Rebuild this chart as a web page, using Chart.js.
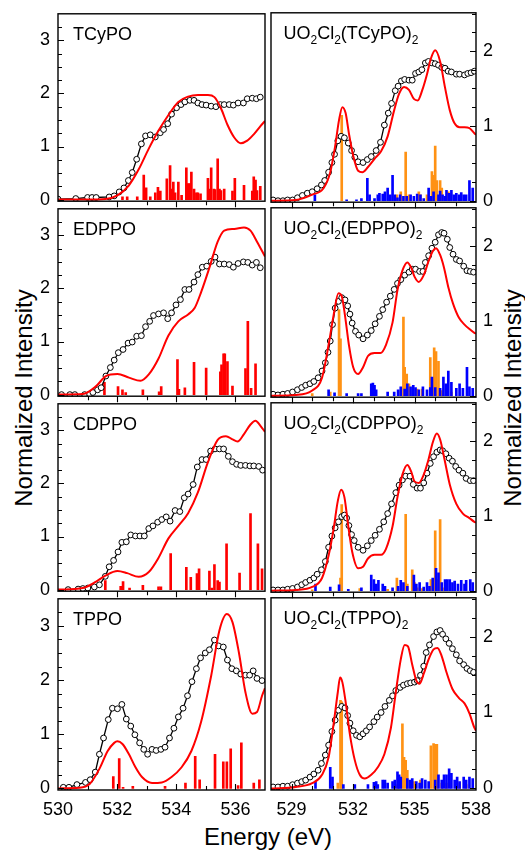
<!DOCTYPE html>
<html><head><meta charset="utf-8">
<script src="https://cdn.jsdelivr.net/npm/chart.js@4.4.1/dist/chart.umd.min.js"></script>
<style>
html,body{margin:0;padding:0;background:#fff;}
#wrap{position:relative;width:525px;height:850px;overflow:hidden;font-family:"Liberation Sans",Arial,sans-serif;color:#000;}
#wrap canvas{position:absolute;}
.ytitle{position:absolute;font-size:24px;line-height:24px;white-space:nowrap;transform:translate(-50%,-50%) rotate(-90deg);}
#xtitle{position:absolute;font-size:24px;line-height:24px;white-space:nowrap;left:268px;top:825px;transform:translateX(-50%);}
</style></head>
<body><div id="wrap">
<div class="ytitle" style="left:24px;top:398px;">Normalized Intensity</div>
<div class="ytitle" style="left:513px;top:398px;">Normalized Intensity</div>
<div id="xtitle">Energy (eV)</div>
</div>
<script>
// ---------- axis tick labels ----------
const leftXTicks = [530, 532, 534, 536];
const rightXTicks = [529, 532, 535, 538];
const leftYTicks = [0, 1, 2, 3];
const rightYTicks = [0, 1, 2];

// ---------- panel labels ----------
const leftNames = ['TCyPO', 'EDPPO', 'CDPPO', 'TPPO'];
const rightNames = ['(TCyPO)', '(EDPPO)', '(CDPPO)', '(TPPO)'];

// ---------- Left column: free ligands (energy eV, intensity) ----------
const tcypoExp = [[530.0,0.01],[530.6,0.02],[531.0,0.04],[531.15,0.04],[531.29,0.04],[531.73,0.05],[531.9,0.07],[532.07,0.145],[532.23,0.22],[532.38,0.36],[532.51,0.51],[532.66,0.76],[532.82,1.05],[532.96,1.20],[533.12,1.22],[533.29,1.18],[533.46,1.26],[533.57,1.32],[533.71,1.43],[533.84,1.61],[534.01,1.73],[534.16,1.79],[534.29,1.84],[534.46,1.87],[534.6,1.87],[534.73,1.82],[534.87,1.79],[535.01,1.78],[535.18,1.76],[535.34,1.75],[535.49,1.79],[535.62,1.79],[535.79,1.79],[535.93,1.78],[536.09,1.82],[536.27,1.82],[536.4,1.90],[536.57,1.91],[536.71,1.90],[536.84,1.93]];
const tcypoCalc = [[530.0,0],[531.0,0],[531.6,0.01],[532.01,0.08],[532.4,0.27],[532.73,0.57],[533.07,0.96],[533.4,1.30],[533.73,1.59],[534.07,1.84],[534.4,1.94],[534.73,1.97],[535.07,1.97],[535.29,1.93],[535.51,1.72],[535.73,1.41],[535.96,1.17],[536.18,1.06],[536.4,1.11],[536.62,1.23],[536.84,1.38],[537.0,1.48]];
const tcypoSticks = [[532.18,0.05],[532.34,0.05],[532.68,0.05],[532.9,0.46],[532.98,0.22],[533.12,0.05],[533.29,0.13],[533.38,0.23],[533.46,0.16],[533.68,0.39],[533.79,0.64],[533.84,0.20],[533.9,0.33],[533.96,0.13],[534.07,0.33],[534.18,0.08],[534.34,0.60],[534.4,0.30],[534.46,0.30],[534.51,0.52],[534.6,0.20],[534.68,0.13],[534.73,0.13],[534.82,0.11],[535.07,0.40],[535.1,0.20],[535.18,0.60],[535.27,0.20],[535.31,0.19],[535.4,0.77],[535.46,0.20],[535.51,0.17],[535.62,0.20],[535.9,0.16],[535.98,0.40],[536.29,0.27],[536.57,0.16],[536.62,0.43],[536.68,0.37],[536.73,0.17],[536.84,0.25]];

const edppoExp = [[530.12,0.0],[530.4,0.0],[530.57,0.0],[530.9,0.0],[531.07,0.01],[531.18,0.04],[531.34,0.09],[531.46,0.13],[531.62,0.35],[531.77,0.51],[531.9,0.65],[532.04,0.79],[532.2,0.85],[532.37,0.97],[532.51,0.99],[532.66,1.10],[532.82,1.11],[532.96,1.28],[533.1,1.38],[533.23,1.49],[533.4,1.52],[533.57,1.54],[533.71,1.43],[533.84,1.54],[533.99,1.69],[534.14,1.79],[534.29,1.98],[534.43,1.98],[534.6,2.12],[534.73,2.26],[534.88,2.40],[535.03,2.42],[535.18,2.51],[535.31,2.59],[535.46,2.46],[535.62,2.46],[535.79,2.45],[535.93,2.40],[536.09,2.47],[536.27,2.50],[536.42,2.49],[536.57,2.44],[536.71,2.49],[536.84,2.39]];
const edppoCalc = [[530.0,0],[530.84,0.01],[531.29,0.16],[531.62,0.35],[532.01,0.39],[532.4,0.32],[532.79,0.26],[533.07,0.38],[533.4,0.68],[533.73,1.11],[534.07,1.38],[534.4,1.51],[534.62,1.63],[534.84,1.93],[535.12,2.39],[535.4,2.88],[535.62,3.09],[535.96,3.12],[536.29,3.15],[536.51,3.09],[536.73,2.88],[537.0,2.60]];
const edppoSticks = [[531.57,0.23],[532.03,0.15],[532.18,0.09],[532.29,0.04],[532.87,0.09],[533.42,0.05],[533.49,0.15],[534.04,0.66],[534.09,0.10],[534.29,0.13],[534.6,0.61],[535.01,0.50],[535.49,0.43],[535.53,0.56],[535.6,0.77],[535.64,0.77],[535.73,0.62],[535.9,0.16],[536.34,0.49],[536.42,1.38],[536.53,0.12],[536.68,0.58]];

const cdppoExp = [[530.34,0.0],[530.68,0.01],[530.84,0.02],[531.01,0.03],[531.23,0.05],[531.4,0.09],[531.6,0.25],[531.73,0.43],[531.88,0.55],[532.03,0.71],[532.16,0.89],[532.31,0.90],[532.46,1.03],[532.62,1.01],[532.77,1.01],[532.92,1.01],[533.07,1.15],[533.21,1.20],[533.37,1.27],[533.51,1.32],[533.66,1.37],[533.79,1.29],[533.96,1.49],[534.12,1.47],[534.27,1.73],[534.4,1.80],[534.57,1.98],[534.71,2.31],[534.87,2.45],[535.01,2.45],[535.16,2.61],[535.31,2.65],[535.46,2.65],[535.6,2.65],[535.76,2.51],[535.9,2.41],[536.04,2.36],[536.18,2.34],[536.34,2.34],[536.49,2.33],[536.62,2.33],[536.79,2.32],[536.92,2.25]];
const cdppoCalc = [[530.0,0],[530.84,0.03],[531.29,0.15],[531.62,0.27],[532.01,0.35],[532.34,0.31],[532.73,0.24],[533.07,0.33],[533.4,0.60],[533.73,0.96],[534.07,1.20],[534.4,1.44],[534.73,1.83],[535.07,2.40],[535.4,2.82],[535.68,2.89],[535.9,2.83],[536.07,2.79],[536.29,2.93],[536.51,3.11],[536.68,3.18],[536.84,3.09],[537.0,2.97]];
const cdppoSticks = [[531.6,0.17],[532.12,0.06],[532.2,0.15],[532.42,0.03],[532.87,0.08],[533.4,0.05],[533.48,0.05],[533.81,0.68],[534.34,0.42],[534.49,0.23],[534.7,0.30],[534.77,0.39],[535.12,0.35],[535.2,0.03],[535.29,0.47],[535.4,0.17],[535.46,0.14],[535.7,0.86],[536.14,0.31],[536.51,1.43],[536.76,0.86],[536.9,0.39]];

const tppoExp = [[530.18,0.02],[530.37,0.02],[530.64,0.07],[530.93,0.11],[531.09,0.16],[531.26,0.30],[531.4,0.63],[531.54,0.93],[531.7,1.27],[531.84,1.48],[532.01,1.47],[532.16,1.55],[532.31,1.28],[532.46,1.15],[532.6,0.99],[532.76,0.84],[532.9,0.72],[533.03,0.63],[533.18,0.72],[533.32,0.70],[533.48,0.72],[533.62,0.76],[533.77,0.93],[533.92,1.11],[534.07,1.32],[534.23,1.48],[534.38,1.71],[534.53,1.97],[534.68,2.21],[534.82,2.41],[534.98,2.50],[535.12,2.56],[535.29,2.74],[535.43,2.63],[535.59,2.61],[535.73,2.37],[535.88,2.21],[536.03,2.17],[536.18,2.11],[536.34,2.09],[536.48,2.09],[536.6,2.17],[536.73,2.03],[536.9,1.99]];
const tppoCalc = [[530.0,0],[530.73,0.01],[531.07,0.08],[531.4,0.36],[531.68,0.69],[531.9,0.84],[532.01,0.87],[532.18,0.82],[532.4,0.63],[532.62,0.39],[532.84,0.21],[533.18,0.10],[533.51,0.11],[533.84,0.21],[534.18,0.39],[534.51,0.69],[534.84,1.23],[535.18,2.08],[535.46,2.92],[535.71,3.22],[535.9,3.07],[536.12,2.50],[536.34,1.77],[536.57,1.38],[536.73,1.41],[536.9,1.71],[537.0,1.85]];
const tppoSticks = [[531.87,0.22],[532.07,0.55],[532.2,0.02],[532.53,0.04],[533.62,0.04],[534.31,0.10],[534.64,0.59],[534.79,0.16],[535.31,0.63],[535.59,0.49],[535.71,0.49],[535.84,0.73],[536.09,0.05],[536.2,0.84],[536.62,0.10],[536.81,0.16]];

// ---------- Right column: uranyl complexes ----------
const uTcypoExp = [[528.1,0.01],[528.34,0],[528.58,0],[528.81,0.01],[529.05,0.01],[529.29,0.04],[529.53,0.07],[529.77,0.10],[530.01,0.12],[530.25,0.16],[530.46,0.21],[530.62,0.27],[530.81,0.38],[530.97,0.51],[531.1,0.62],[531.26,0.80],[531.42,0.86],[531.58,0.84],[531.77,0.77],[531.93,0.67],[532.09,0.58],[532.25,0.52],[532.49,0.51],[532.7,0.55],[532.89,0.59],[533.13,0.67],[533.34,0.78],[533.53,1.01],[533.72,1.17],[533.88,1.30],[534.06,1.47],[534.2,1.53],[534.36,1.60],[534.52,1.62],[534.73,1.61],[534.89,1.61],[535.05,1.70],[535.21,1.72],[535.36,1.75],[535.53,1.84],[535.68,1.86],[535.85,1.84],[536.01,1.83],[536.17,1.81],[536.33,1.78],[536.49,1.77],[536.64,1.73],[536.8,1.72],[537.04,1.69],[537.2,1.69],[537.44,1.68],[537.6,1.70],[537.76,1.71],[537.92,1.73]];
const uTcypoCalc = [[528.0,0],[529.21,0.01],[530.01,0.08],[530.57,0.17],[530.89,0.38],[531.13,0.73],[531.32,1.08],[531.48,1.25],[531.64,1.17],[531.8,0.90],[532.01,0.60],[532.25,0.40],[532.46,0.38],[532.73,0.45],[533.05,0.56],[533.37,0.66],[533.69,0.86],[534.01,1.21],[534.25,1.43],[534.49,1.52],[534.73,1.48],[534.97,1.36],[535.16,1.34],[535.37,1.47],[535.61,1.69],[535.8,1.90],[536.01,2.01],[536.25,1.86],[536.49,1.51],[536.72,1.21],[536.96,1.03],[537.2,0.98],[537.44,0.98],[537.68,0.97],[537.92,0.90],[538.0,0.88]];
const uTcypoOrange = [[531.45,1.14],[534.14,0.08],[534.33,0.12],[534.57,0.65],[534.73,0.08],[535.21,0.12],[535.29,0.08],[535.61,0.08],[535.85,0.39],[535.93,0.34],[536.01,0.73],[536.09,0.27],[536.25,0.27],[536.33,0.17],[536.65,0.12],[536.72,0.08]];
const uTcypoBlue = [[530.14,0.08],[531.69,0.01],[532.17,0.01],[532.41,0.03],[532.7,0.30],[532.81,0.08],[533.05,0.03],[533.21,0.08],[533.29,0.10],[533.45,0.09],[533.56,0.12],[533.69,0.17],[533.82,0.08],[533.93,0.34],[534.04,0.08],[534.17,0.04],[534.3,0.08],[534.46,0.06],[534.62,0.06],[534.81,0.08],[534.97,0.06],[535.13,0.09],[535.29,0.08],[535.45,0.03],[535.69,0.17],[535.8,0.06],[535.93,0.12],[536.17,0.08],[536.25,0.13],[536.37,0.08],[536.49,0.06],[536.56,0.14],[536.69,0.10],[536.8,0.14],[536.92,0.08],[537.04,0.10],[537.17,0.08],[537.28,0.11],[537.4,0.08],[537.52,0.08],[537.68,0.27],[537.84,0.17]];

const uEdppoExp = [[528.1,0.02],[528.34,0.01],[528.58,0.02],[528.81,0.03],[529.05,0.05],[529.29,0.08],[529.5,0.11],[529.69,0.14],[529.9,0.16],[530.09,0.19],[530.3,0.24],[530.49,0.33],[530.65,0.44],[530.78,0.58],[530.89,0.73],[531.0,0.95],[531.13,1.17],[531.29,1.26],[531.45,1.31],[531.61,1.28],[531.74,1.20],[531.85,1.09],[531.96,0.97],[532.12,0.86],[532.28,0.81],[532.49,0.76],[532.7,0.81],[532.89,0.87],[533.08,0.96],[533.29,1.06],[533.45,1.15],[533.64,1.25],[533.82,1.33],[534.01,1.42],[534.17,1.50],[534.33,1.55],[534.52,1.61],[534.73,1.65],[534.89,1.69],[535.05,1.69],[535.25,1.66],[535.41,1.66],[535.53,1.78],[535.69,1.87],[535.85,1.97],[536.01,2.05],[536.17,2.15],[536.33,2.18],[536.44,2.17],[536.6,2.09],[536.72,1.98],[536.88,1.89],[537.04,1.82],[537.2,1.80],[537.4,1.73],[537.56,1.67],[537.72,1.66],[537.88,1.65]];
const uEdppoCalc = [[528.0,0],[529.21,0.01],[530.01,0.07],[530.49,0.24],[530.81,0.68],[531.05,1.07],[531.29,1.37],[531.45,1.33],[531.61,1.07],[531.8,0.68],[532.01,0.38],[532.25,0.29],[532.49,0.38],[532.73,0.53],[533.05,0.57],[533.34,0.57],[533.61,0.68],[533.93,0.98],[534.17,1.41],[534.41,1.67],[534.65,1.78],[534.84,1.71],[535.0,1.59],[535.21,1.52],[535.45,1.61],[535.69,1.80],[535.89,1.93],[536.05,1.97],[536.25,1.88],[536.44,1.71],[536.65,1.45],[536.88,1.23],[537.17,1.04],[537.44,0.95],[537.68,0.89],[537.92,0.84],[538.0,0.83]];
const uEdppoOrange = [[530.01,0.03],[530.89,0.05],[531.32,1.15],[531.39,0.76],[534.33,0.07],[534.46,1.05],[534.52,0.38],[534.62,0.29],[534.73,0.16],[535.13,0.09],[535.37,0.09],[535.77,0.51],[535.85,0.16],[535.96,0.64],[536.05,0.59],[536.17,0.46],[536.33,0.07],[536.56,0.07],[536.8,0.05]];
const uEdppoBlue = [[530.81,0.08],[531.1,0.04],[531.69,0.03],[532.25,0.03],[532.41,0.03],[532.89,0.16],[532.97,0.17],[533.05,0.14],[533.13,0.08],[533.69,0.05],[534.01,0.05],[534.2,0.08],[534.33,0.12],[534.52,0.09],[534.65,0.16],[534.81,0.12],[534.94,0.14],[535.05,0.11],[535.21,0.08],[535.41,0.12],[535.61,0.08],[535.77,0.11],[535.85,0.25],[536.01,0.11],[536.25,0.10],[536.41,0.25],[536.53,0.16],[536.65,0.33],[536.8,0.18],[537.04,0.10],[537.2,0.16],[537.36,0.10],[537.56,0.38],[537.68,0.12],[537.84,0.10]];

const uCdppoExp = [[528.1,0.01],[528.34,0.01],[528.58,0.01],[528.81,0.02],[529.05,0.03],[529.29,0.05],[529.5,0.08],[529.69,0.11],[529.9,0.14],[530.09,0.17],[530.25,0.22],[530.46,0.28],[530.65,0.39],[530.81,0.58],[530.97,0.73],[531.13,0.84],[531.29,0.92],[531.45,0.99],[531.58,1.01],[531.69,0.97],[531.8,0.87],[531.93,0.75],[532.06,0.67],[532.25,0.58],[532.49,0.54],[532.7,0.60],[532.89,0.67],[533.08,0.74],[533.29,0.82],[533.5,0.92],[533.69,1.03],[533.88,1.16],[534.09,1.31],[534.25,1.41],[534.41,1.48],[534.57,1.53],[534.78,1.53],[534.94,1.42],[535.13,1.37],[535.29,1.37],[535.45,1.44],[535.61,1.57],[535.77,1.70],[535.93,1.79],[536.09,1.85],[536.25,1.88],[536.37,1.87],[536.53,1.83],[536.69,1.77],[536.85,1.73],[537.01,1.66],[537.17,1.61],[537.36,1.57],[537.52,1.50],[537.72,1.47],[537.88,1.47]];
const uCdppoCalc = [[528.0,0],[529.21,0.01],[530.01,0.05],[530.49,0.17],[530.81,0.47],[531.05,0.82],[531.26,1.20],[531.42,1.35],[531.58,1.25],[531.77,0.86],[531.96,0.52],[532.25,0.30],[532.49,0.32],[532.73,0.43],[533.05,0.48],[533.37,0.48],[533.61,0.56],[533.93,0.86],[534.17,1.25],[534.41,1.55],[534.65,1.68],[534.84,1.59],[535.0,1.46],[535.21,1.44],[535.45,1.55],[535.69,1.76],[535.89,1.98],[536.09,2.10],[536.25,2.02],[536.49,1.72],[536.72,1.42],[537.04,1.16],[537.36,1.03],[537.68,0.97],[537.92,0.92],[538.0,0.91]];
const uCdppoOrange = [[530.01,0.01],[531.39,0.17],[531.45,1.15],[532.33,0.03],[533.69,0.02],[534.14,0.17],[534.57,1.02],[534.65,0.09],[534.89,0.28],[535.0,0.11],[535.13,0.04],[535.37,0.03],[535.8,0.15],[535.93,0.13],[536.01,0.80],[536.09,0.15],[536.25,0.95],[536.37,0.04]];
const uCdppoBlue = [[530.17,0.09],[530.89,0.05],[531.32,0.08],[531.77,0.02],[532.41,0.04],[532.89,0.21],[533.02,0.15],[533.13,0.09],[533.24,0.14],[533.45,0.09],[533.56,0.06],[533.93,0.04],[534.2,0.06],[534.33,0.14],[534.46,0.11],[534.65,0.06],[534.97,0.21],[535.09,0.09],[535.25,0.11],[535.45,0.05],[535.61,0.11],[535.73,0.06],[535.89,0.17],[536.05,0.30],[536.17,0.24],[536.33,0.11],[536.49,0.15],[536.6,0.15],[536.72,0.15],[536.85,0.11],[536.96,0.13],[537.12,0.09],[537.28,0.14],[537.44,0.09],[537.52,0.14],[537.72,0.15],[537.84,0.11]];

const uTppoExp = [[528.1,0.02],[528.34,0.02],[528.58,0.03],[528.81,0.03],[529.05,0.05],[529.29,0.07],[529.5,0.09],[529.69,0.11],[529.9,0.15],[530.09,0.19],[530.3,0.24],[530.46,0.33],[530.65,0.44],[530.81,0.57],[530.97,0.75],[531.13,0.90],[531.29,1.03],[531.45,1.08],[531.61,1.06],[531.74,0.96],[531.85,0.86],[532.01,0.76],[532.17,0.70],[532.33,0.68],[532.49,0.72],[532.65,0.76],[532.81,0.81],[533.02,0.88],[533.18,0.94],[533.37,1.00],[533.56,1.08],[533.77,1.16],[533.93,1.22],[534.09,1.29],[534.3,1.33],[534.46,1.36],[534.65,1.38],[534.81,1.39],[535.0,1.40],[535.13,1.42],[535.29,1.49],[535.45,1.61],[535.57,1.79],[535.73,1.89],[535.93,2.00],[536.09,2.06],[536.25,2.08],[536.37,2.03],[536.53,1.97],[536.69,1.91],[536.85,1.84],[537.04,1.76],[537.2,1.68],[537.4,1.63],[537.56,1.58],[537.72,1.55],[537.88,1.53]];
const uTppoCalc = [[528.0,0],[529.21,0.02],[530.01,0.07],[530.49,0.18],[530.81,0.41],[531.05,0.84],[531.26,1.27],[531.37,1.46],[531.48,1.40],[531.64,1.14],[531.85,0.71],[532.09,0.37],[532.33,0.18],[532.57,0.13],[532.89,0.18],[533.21,0.28],[533.53,0.45],[533.85,0.80],[534.09,1.27],[534.33,1.70],[534.52,1.89],[534.68,1.87],[534.89,1.63],[535.09,1.42],[535.25,1.38],[535.45,1.51],[535.69,1.70],[535.93,1.83],[536.12,1.85],[536.33,1.74],[536.56,1.53],[536.85,1.31],[537.17,1.19],[537.44,1.12],[537.68,0.99],[537.92,0.80],[538.0,0.76]];
const uTppoOrange = [[531.26,0.07],[531.39,1.16],[531.45,1.14],[534.17,0.05],[534.41,0.85],[534.49,0.41],[534.57,0.37],[534.65,0.24],[534.81,0.09],[535.0,0.09],[535.29,0.11],[535.8,0.56],[535.93,0.59],[536.01,0.58],[536.09,0.58],[536.33,0.07],[536.56,0.07],[537.2,0.07],[537.52,0.05]];
const uTppoBlue = [[530.17,0.09],[530.89,0.28],[531.0,0.15],[531.53,0.05],[532.09,0.05],[532.73,0.05],[533.02,0.08],[533.13,0.09],[533.21,0.05],[533.45,0.11],[533.56,0.11],[533.69,0.07],[533.93,0.09],[534.04,0.11],[534.17,0.22],[534.25,0.18],[534.33,0.15],[534.65,0.13],[534.78,0.11],[534.89,0.13],[535.09,0.09],[535.25,0.07],[535.37,0.13],[535.53,0.11],[535.69,0.09],[536.01,0.11],[536.17,0.18],[536.33,0.11],[536.44,0.18],[536.56,0.18],[536.69,0.26],[536.8,0.20],[536.96,0.11],[537.08,0.15],[537.2,0.09],[537.4,0.15],[537.52,0.11],[537.68,0.15],[537.84,0.13]];

// ---------- build ----------
const FONT = '"Liberation Sans", Arial, sans-serif';
Chart.defaults.font.family = FONT;
Chart.defaults.color = '#000';
const RED = '#ff0000', BLUE = '#0000ff', ORANGE = '#ff9214';
const wrap = document.getElementById('wrap');
const PANEL_H = 195, TOP0 = 10;
const toXY = arr => arr.map(p => ({x: p[0], y: p[1]}));

function makePanel(side, row, exp, calc, bars) {
  const isL = side === 'L';
  const isBottom = row === 3;
  const top = TOP0 + PANEL_H * row;
  const cv = document.createElement('canvas');
  const cw = isL ? 270 : 259;
  const ch = 15 + PANEL_H + (isBottom ? 45 : 15);
  cv.width = cw; cv.height = ch;
  cv.style.width = cw + 'px'; cv.style.height = ch + 'px';
  cv.style.left = (isL ? 0 : 266) + 'px';
  cv.style.top = (top - 15) + 'px';
  wrap.appendChild(cv);

  const xMin = isL ? 530 : 528, xMax = isL ? 537 : 538;
  const yMin = isL ? -0.03 : -0.02, yMax = isL ? 3.5 : 2.51;
  const xMajor = isL ? leftXTicks : rightXTicks;
  const yMajor = isL ? leftYTicks : rightYTicks;

  const datasets = [
    {type: 'line', data: toXY(calc), borderColor: RED, borderWidth: 2, pointRadius: 0,
     cubicInterpolationMode: 'monotone', order: 0},
    {type: 'line', data: toXY(exp), borderColor: '#000', borderWidth: 1.3, tension: 0,
     pointRadius: 2.9, pointBorderWidth: 1, pointBackgroundColor: '#fff', pointBorderColor: '#000', order: 1}
  ];
  bars.forEach((b, i) => datasets.push({
    type: 'bar', data: toXY(b.data), backgroundColor: b.color, borderWidth: 0,
    barThickness: 2, grouped: false, order: 2 + i
  }));

  const deco = {
    id: 'deco' + side + row,
    afterDatasetsDraw(chart) {
      const {ctx, chartArea: a, scales: {x, y}} = chart;
      ctx.save();
      ctx.strokeStyle = '#000';
      ctx.lineWidth = 1.1;
      ctx.beginPath();
      for (let k = 0; k * 0.25 <= yMax; k++) {
        const v = k * 0.25;
        const py = Math.round(y.getPixelForValue(v)) + 0.5;
        if (py <= a.top + 1) continue;
        const len = (k % 4 === 0) ? 6 : 4;
        if (isL) { ctx.moveTo(a.left, py); ctx.lineTo(a.left + len, py); }
        else { ctx.moveTo(a.right, py); ctx.lineTo(a.right - len, py); }
      }
      for (let v = xMin + 1; v < xMax; v++) {
        const px = Math.round(x.getPixelForValue(v)) + 0.5;
        const len = xMajor.includes(v) ? 6 : 4;
        const dir = isBottom ? -1 : 1;
        ctx.moveTo(px, a.bottom); ctx.lineTo(px, a.bottom + dir * len);
      }
      ctx.stroke();
      ctx.lineWidth = 1.4;
      ctx.strokeRect(a.left, a.top, a.right - a.left, a.bottom - a.top);
      // panel label
      ctx.fillStyle = '#000';
      ctx.textBaseline = 'alphabetic';
      const bx = isL ? a.left + 15 : a.left + 12.5;
      const by = a.top + 26;
      const parts = isL ? [[leftNames[row], 0]]
        : [['UO', 0], ['2', 1], ['Cl', 0], ['2', 1], [rightNames[row], 0], ['2', 1]];
      let cx = bx;
      for (const [t, sub] of parts) {
        ctx.font = (sub ? '12px ' : '18px ') + FONT;
        ctx.fillText(t, cx, sub ? by + 5 : by);
        cx += ctx.measureText(t).width;
      }
      ctx.restore();
    }
  };

  new Chart(cv, {
    type: 'bar',
    data: {datasets},
    options: {
      responsive: false, animation: false, devicePixelRatio: 1,
      layout: {padding: {left: isL ? 0 : 2, right: isL ? 2 : 0, top: 15, bottom: isBottom ? 0 : 15}},
      plugins: {legend: {display: false}, tooltip: {enabled: false}},
      scales: {
        x: {
          type: 'linear', min: xMin, max: xMax, offset: false, display: isBottom,
          grid: {display: false, drawTicks: false}, border: {display: false},
          ticks: {font: {size: 18}, color: '#000', padding: 9, maxRotation: 0, autoSkip: false},
          afterBuildTicks: s => { s.ticks = xMajor.map(v => ({value: v})); },
          afterFit: s => { s.height = isBottom ? 45 : 0; }
        },
        y: {
          type: 'linear', position: isL ? 'left' : 'right', min: yMin, max: yMax,
          grid: {display: false, drawTicks: false}, border: {display: false},
          ticks: {font: {size: 18}, color: '#000', padding: isL ? 8 : 7},
          afterBuildTicks: s => { s.ticks = yMajor.map(v => ({value: v})); },
          afterFit: s => { s.width = isL ? 58 : 49; }
        }
      }
    },
    plugins: [deco]
  });
}

makePanel('L', 0, tcypoExp, tcypoCalc, [{data: tcypoSticks, color: RED}]);
makePanel('L', 1, edppoExp, edppoCalc, [{data: edppoSticks, color: RED}]);
makePanel('L', 2, cdppoExp, cdppoCalc, [{data: cdppoSticks, color: RED}]);
makePanel('L', 3, tppoExp, tppoCalc, [{data: tppoSticks, color: RED}]);
makePanel('R', 0, uTcypoExp, uTcypoCalc, [{data: uTcypoBlue, color: BLUE}, {data: uTcypoOrange, color: ORANGE}]);
makePanel('R', 1, uEdppoExp, uEdppoCalc, [{data: uEdppoBlue, color: BLUE}, {data: uEdppoOrange, color: ORANGE}]);
makePanel('R', 2, uCdppoExp, uCdppoCalc, [{data: uCdppoBlue, color: BLUE}, {data: uCdppoOrange, color: ORANGE}]);
makePanel('R', 3, uTppoExp, uTppoCalc, [{data: uTppoBlue, color: BLUE}, {data: uTppoOrange, color: ORANGE}]);
</script>
</body></html>
